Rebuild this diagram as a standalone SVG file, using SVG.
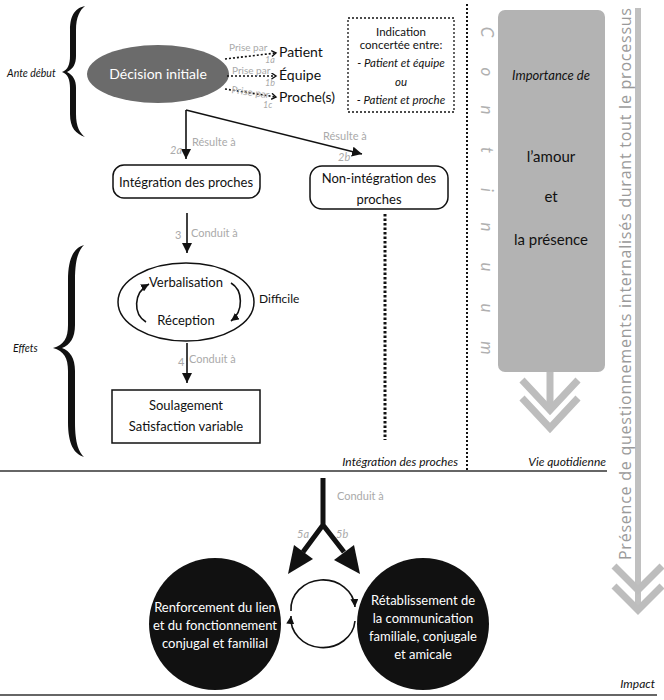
<svg xmlns="http://www.w3.org/2000/svg" width="664" height="700" viewBox="0 0 664 700">
<style>
text{font-family:Lato,"Liberation Sans",sans-serif;fill:#111}
.c{text-anchor:middle}
.it{font-style:italic}
.gl{fill:#aaaaaa;font-size:10px}
.gi{fill:#aaaaaa;font-size:10px;font-style:italic}
.ln{stroke:#111;stroke-width:1.6;fill:none}
.dash{stroke:#111;stroke-width:1.6;stroke-dasharray:2 2;fill:none}
.box{fill:#fff;stroke:#111;stroke-width:1.5}
.wt{fill:#fff;font-size:13px;text-anchor:middle}
.chev{fill:none;stroke:#bdbdbd;stroke-width:7}
.cont{fill:#b0b0b0;font-size:17px;font-style:italic;text-anchor:middle}
</style>
<defs>
<marker id="tri" markerUnits="userSpaceOnUse" markerWidth="11" markerHeight="10" refX="10" refY="5" orient="auto"><path d="M0,0 L10,5 L0,10 z" fill="#111"/></marker>
<marker id="tris" markerUnits="userSpaceOnUse" markerWidth="9" markerHeight="8" refX="8" refY="4" orient="auto"><path d="M0,0 L8,4 L0,8 z" fill="#111"/></marker>
<marker id="open" markerUnits="userSpaceOnUse" markerWidth="7" markerHeight="7" refX="5" refY="3.5" orient="auto"><path d="M0.5,0.5 L5,3.5 L0.5,6.5" fill="none" stroke="#111" stroke-width="1.4"/></marker>
</defs>
<rect width="664" height="700" fill="#fff"/>

<g id="sections">
<line x1="467" y1="4" x2="467" y2="472" stroke="#111" stroke-width="2" stroke-dasharray="2 2"/>
<line x1="0" y1="471" x2="607" y2="471" stroke="#333" stroke-width="1.6"/>
<line x1="0" y1="695" x2="657" y2="695" stroke="#333" stroke-width="1.6"/>
<text x="458" y="466" class="it" font-size="12" text-anchor="end">Intégration des proches</text>
<text x="606" y="466" class="it" font-size="12" text-anchor="end">Vie quotidienne</text>
<text x="655" y="688" class="it" font-size="12" text-anchor="end">Impact</text>
</g>

<g id="brace-ante">
<path d="M85 6 C76 8,70 14,70 30 L70 56 C70 64,68 70,62 72 C68 74,70 80,70 88 L70 114 C70 128,76 134,85 137 C80 133,76 127,76 114 L76 88 C76 80,73 75,67 72 C73 69,76 64,76 56 L76 30 C76 17,80 10,85 6 Z" fill="#111"/>
<text x="7" y="77" class="it" font-size="10.5">Ante début</text>
</g>
<g id="brace-effets">
<path d="M84 245 C74 248,68 258,68 280 L68 325 C68 338,64 345,53 348 C64 351,68 358,68 371 L68 422 C68 444,74 454,84 457 C79 452,75 444,75 422 L75 371 C75 358,70 351,62 348 C70 345,75 338,75 325 L75 280 C75 258,79 250,84 245 Z" fill="#111"/>
<text x="13" y="352" class="it" font-size="10.5">Effets</text>
</g>

<g id="decision">
<ellipse cx="158" cy="74" rx="71" ry="29" fill="#6b6b6b"/>
<text x="158" y="79" class="c" font-size="14" style="fill:#fff">Décision initiale</text>
</g>
<g id="patient"><text x="279" y="57" font-size="14">Patient</text></g>
<g id="equipe"><text x="279" y="80" font-size="14">Équipe</text></g>
<g id="proches"><text x="279" y="102" font-size="14">Proche(s)</text></g>

<g id="indication">
<rect x="348" y="18" width="106" height="94" fill="none" stroke="#111" stroke-width="1.3" stroke-dasharray="2 2"/>
<text x="401" y="36" class="c" font-size="11.5">Indication</text>
<text x="401" y="49" class="c" font-size="11.5">concertée entre:</text>
<text x="401" y="67" class="c it" font-size="11.5">- Patient et équipe</text>
<text x="401" y="86" class="c it" font-size="11.5">ou</text>
<text x="401" y="104" class="c it" font-size="11.5">- Patient et proche</text>
</g>

<g id="integration">
<rect x="113" y="165" width="147" height="33" rx="11" class="box"/>
<text x="186" y="187" class="c" font-size="13">Intégration des proches</text>
</g>
<g id="non-integration">
<rect x="310" y="166" width="138" height="43" rx="12" class="box"/>
<text x="379" y="183" class="c" font-size="13">Non-intégration des</text>
<text x="379" y="204" class="c" font-size="13">proches</text>
</g>

<g id="verbalisation-reception">
<ellipse cx="186" cy="302" rx="68" ry="39" fill="none" stroke="#111" stroke-width="1.5"/>
<text x="186" y="287" class="c" font-size="13">Verbalisation</text>
<text x="186" y="325" class="c" font-size="13">Réception</text>
<text x="259" y="303" font-size="12">Difficile</text>
</g>

<g id="soulagement">
<rect x="112" y="390" width="148" height="53" class="box"/>
<text x="186" y="410" class="c" font-size="13">Soulagement</text>
<text x="186" y="431" class="c" font-size="13">Satisfaction variable</text>
</g>

<g id="importance">
<rect x="498" y="10" width="107" height="362" rx="7" fill="#b3b3b3"/>
<text x="551" y="80" class="c it" font-size="13">Importance de</text>
<text x="551" y="162" class="c" font-size="15">l’amour</text>
<text x="551" y="202" class="c" font-size="15">et</text>
<text x="551" y="245" class="c" font-size="15">la présence</text>
<line x1="550" y1="372" x2="550" y2="410" stroke="#bdbdbd" stroke-width="7"/>
<polyline points="522,380 550,410 578,380" class="chev"/>
<polyline points="522,398 550,428 578,398" class="chev"/>
</g>

<g id="continuum">
<text class="cont" transform="translate(481,32) rotate(90)">C</text>
<text class="cont" transform="translate(481,72) rotate(90)">o</text>
<text class="cont" transform="translate(481,110) rotate(90)">n</text>
<text class="cont" transform="translate(481,150) rotate(90)">t</text>
<text class="cont" transform="translate(481,190) rotate(90)">i</text>
<text class="cont" transform="translate(481,227) rotate(90)">n</text>
<text class="cont" transform="translate(481,267) rotate(90)">u</text>
<text class="cont" transform="translate(481,308) rotate(90)">u</text>
<text class="cont" transform="translate(481,348) rotate(90)">m</text>
</g>

<g id="questionnements">
<line x1="638" y1="8" x2="638" y2="605" stroke="#c0c0c0" stroke-width="6"/>
<polyline points="614,566 638,590 662,566" class="chev" stroke="#c0c0c0"/>
<polyline points="614,586 638,610 662,586" class="chev" stroke="#c0c0c0"/>
<text transform="translate(631,560) rotate(-90)" font-size="16" textLength="552" style="fill:#9a9a9a;font-family:'Open Sans','Noto Sans',sans-serif">Présence de questionnements internalisés durant tout le processus</text>
</g>

<g id="renforcement">
<circle cx="215" cy="624" r="66" fill="#111"/>
<text x="215" y="612" class="wt" style="fill:#fff">Renforcement du lien</text>
<text x="215" y="630" class="wt" style="fill:#fff">et du fonctionnement</text>
<text x="215" y="648" class="wt" style="fill:#fff">conjugal et familial</text>
</g>
<g id="retablissement">
<circle cx="423" cy="624" r="66" fill="#111"/>
<text x="423" y="605" class="wt" style="fill:#fff">Rétablissement de</text>
<text x="423" y="623" class="wt" style="fill:#fff">la communication</text>
<text x="423" y="641" class="wt" style="fill:#fff">familiale, conjugale</text>
<text x="423" y="659" class="wt" style="fill:#fff">et amicale</text>
</g>

<g id="connectors">
<path d="M225 59 L276 53" class="dash" marker-end="url(#open)"/>
<path d="M227 76 L276 76" class="dash" marker-end="url(#open)"/>
<path d="M225 89 L276 97" class="dash" marker-end="url(#open)"/>
<text x="229" y="51" class="gl">Prise par</text>
<text x="265" y="63" class="gi" style="font-size:9px">1a</text>
<text x="232" y="74" class="gl">Prise par</text>
<text x="265" y="86" class="gi" style="font-size:9px">1b</text>
<text x="231" y="93" class="gl" transform="rotate(8 231 93)">Prise par</text>
<text x="263" y="108" class="gi" style="font-size:9px">1c</text>
<path d="M186 110 L186 159" class="ln" marker-end="url(#tri)"/>
<path d="M186 110 L362 154" class="ln" marker-end="url(#tri)"/>
<text x="192" y="146" class="gl" style="font-size:11px">Résulte à</text>
<text x="170" y="154" class="gi" style="font-size:11px">2a</text>
<text x="323" y="140" class="gl" style="font-size:11px">Résulte à</text>
<text x="338" y="161" class="gi" style="font-size:11px">2b</text>
<path d="M187 213 L187 253" class="ln" marker-end="url(#tri)"/>
<text x="175" y="239" class="gl" style="font-size:11px">3</text>
<text x="191" y="237" class="gl" style="font-size:11px">Conduit à</text>
<path d="M231 283 C243 290,244 311,231 321" class="ln" marker-end="url(#tris)"/>
<path d="M146 322 C133 314,133 293,149 284" class="ln" marker-end="url(#tris)"/>
<path d="M187 343 L187 383" class="ln" marker-end="url(#tri)"/>
<text x="178" y="366" class="gl" style="font-size:11px">4</text>
<text x="189" y="363" class="gl" style="font-size:11px">Conduit à</text>
<line x1="385" y1="214" x2="385" y2="440" stroke="#111" stroke-width="3" stroke-dasharray="2.5 2"/>
<path d="M323 478 L323 525 L303 552 M323 525 L344 552" fill="none" stroke="#111" stroke-width="5"/>
<polygon points="288,574 313,559 294,545" fill="#111"/>
<polygon points="360,574 354,545 334,560" fill="#111"/>
<text x="337" y="500" class="gl" style="font-size:11px">Conduit à</text>
<text x="297" y="538" class="gi" style="font-size:11px">5a</text>
<text x="336" y="538" class="gi" style="font-size:11px">5b</text>
<path d="M291 611 A32 29 0 0 1 355 607" class="ln" marker-end="url(#tris)"/>
<path d="M355 621 A32 29 0 0 1 291 616" class="ln" marker-end="url(#tris)"/>
</g>
</svg>
